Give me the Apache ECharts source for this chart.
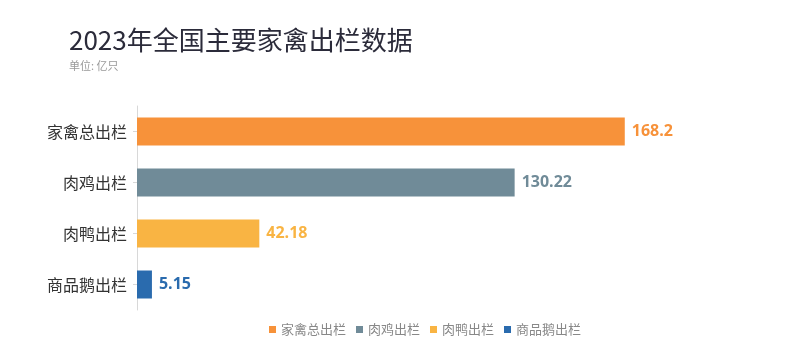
<!DOCTYPE html>
<html>
<head>
<meta charset="utf-8">
<script src="https://cdn.jsdelivr.net/npm/echarts@6/dist/echarts.min.js"></script>
<style>
  html, body { margin: 0; padding: 0; background: #fff; }
  #chart { width: 800px; height: 352px; }
</style>
</head>
<body>
<div id="chart"></div>
<script>
// 数据
const categories = ['家禽总出栏', '肉鸡出栏', '肉鸭出栏', '商品鹅出栏']
const values = [168.2, 130.22, 42.18, 5.15]
const colors = ['#F7923A', '#708B98', '#F9B443', '#2A6BAE']

const myChart = echarts.init(document.getElementById('chart'))

// 每个类别一个系列, 这样图例可以显示四项
const series = categories.map((name, i) => {
  const data = categories.map((c, j) => (j === i ? values[i] : '-'))
  return {
    name: name,
    type: 'bar',
    stack: 'total',
    barWidth: 28,
    data: data,
    itemStyle: { color: colors[i] },
    label: {
      show: true,
      position: 'right',
      distance: 7,
      color: colors[i],
      fontSize: 16,
      fontWeight: 'bold',
      fontFamily: 'Open Sans, Noto Sans CJK SC'
    }
  }
})

const option = {
  animation: false,
  title: {
    text: '2023年全国主要家禽出栏数据',
    subtext: '单位: 亿只',
    left: 64,
    top: 22,
    itemGap: 7,
    textStyle: {
      fontSize: 26,
      fontWeight: 'normal',
      color: '#2b2b3a',
      fontFamily: 'Noto Sans CJK SC'
    },
    subtextStyle: {
      fontSize: 11,
      color: '#999',
      fontFamily: 'Noto Sans CJK SC'
    }
  },
  legend: {
    bottom: 11,
    left: 264,
    itemWidth: 7,
    itemHeight: 7,
    itemGap: 10,
    icon: 'rect',
    textStyle: {
      color: '#888',
      fontSize: 13,
      fontFamily: 'Noto Sans CJK SC'
    },
    data: categories
  },
  grid: {
    left: 137,
    right: 83,
    top: 106,
    bottom: 42,
    containLabel: false
  },
  xAxis: {
    type: 'value',
    min: 0,
    max: 200,
    show: false
  },
  yAxis: {
    type: 'category',
    inverse: true,
    data: categories,
    axisLine: { show: true, lineStyle: { color: '#d8d8d8' } },
    axisTick: { show: true, alignWithLabel: true, length: 4, lineStyle: { color: '#d8d8d8' } },
    axisLabel: {
      color: '#333',
      fontSize: 16,
      margin: 10,
      fontFamily: 'Noto Sans CJK SC'
    }
  },
  series: series
}

myChart.setOption(option)
</script>
</body>
</html>
